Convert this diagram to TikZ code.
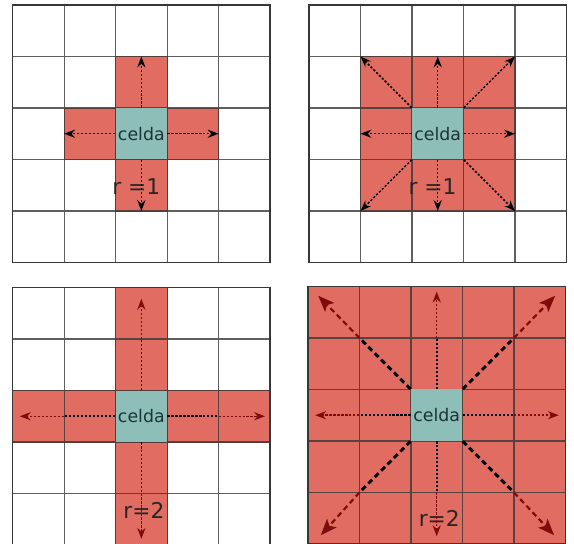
\documentclass[tikz,border=0pt]{standalone}
\usepackage{fontspec}
\setmainfont{DejaVu Sans}
\usetikzlibrary{arrows.meta}
\definecolor{celdaRed}{RGB}{224,108,98}
\definecolor{celdaEdge}{RGB}{214,70,60}
\definecolor{celdaTeal}{RGB}{142,190,184}
\definecolor{celdaInk}{RGB}{28,52,56}
\definecolor{rayRed}{RGB}{125,12,12}
\definecolor{gridGray}{RGB}{55,55,55}

\begin{document}
\begin{tikzpicture}[
    cellgrid/.style={draw=gridGray, draw opacity=0.8, line width=0.65pt},
    frame/.style={draw=gridGray, line width=0.9pt},
    hot/.style={fill=celdaRed, draw=celdaEdge, line width=0.4pt},
    celda/.style={rectangle, fill=celdaTeal, minimum size=1cm, inner sep=0pt,
                  text=celdaInk, font=\fontsize{9.6}{11}\selectfont},
    rlab/.style={text=black!85, font=\fontsize{12}{13}\selectfont, inner sep=0pt},
    ray/.style={black, line width=0.8pt, dash pattern=on 1.2pt off 1pt,
                -{Stealth[length=6pt,width=4.5pt]}},
    rayin/.style={black, line width=0.9pt, dash pattern=on 1.2pt off 1pt},
    rayout/.style={rayRed, line width=0.8pt, dash pattern=on 1.2pt off 1pt,
                   -{Stealth[length=6pt,width=4.5pt]}},
    diagin/.style={black, line width=1.6pt, dash pattern=on 3pt off 2pt},
    diagout/.style={rayRed, line width=1.2pt, dash pattern=on 3pt off 2pt,
                    -{Stealth[length=9pt,width=7pt,inset=2pt]}}
  ]
  \useasboundingbox (0,0) rectangle (11.146,10.563);

  % r = 1, von Neumann
  \begin{scope}[shift={(0.245,5.466)}]
    \filldraw[hot] (2,3) rectangle (3,4) (1,2) rectangle (2,3)
                   (3,2) rectangle (4,3) (2,1) rectangle (3,2);
    \draw[cellgrid] (0,0) grid (5,5);
    \draw[frame] (0,0) rectangle (5,5);
    \node[celda] (cA) at (2.5,2.5) {celda};
    \node[rlab] (rA) at (2.4,1.47) {r =1};
    \coordinate (aN) at (2.5,4);
    \coordinate (aW) at (1,2.5);
    \coordinate (aE) at (4,2.5);
    \coordinate (aS) at (2.5,1);
    \draw[ray] (cA.north) -- (aN);
    \draw[ray] (cA.west) -- (aW);
    \draw[ray] (cA.east) -- (aE);
    \draw[ray] (cA.south) -- (aS);
  \end{scope}

  % r = 1, Moore
  \begin{scope}[shift={(6.0,5.466)}]
    \filldraw[hot] (1,1) rectangle (4,4);
    \draw[cellgrid] (0,0) grid (5,5);
    \draw[frame] (0,0) rectangle (5,5);
    \node[celda] (cB) at (2.5,2.5) {celda};
    \node[rlab] (rB) at (2.4,1.47) {r =1};
    \coordinate (bN) at (2.5,4);
    \coordinate (bW) at (1,2.5);
    \coordinate (bE) at (4,2.5);
    \coordinate (bS) at (2.5,1);
    \coordinate (bNW) at (1,4);
    \coordinate (bNE) at (4,4);
    \coordinate (bSW) at (1,1);
    \coordinate (bSE) at (4,1);
    \draw[ray] (cB.north) -- (bN);
    \draw[ray] (cB.west) -- (bW);
    \draw[ray] (cB.east) -- (bE);
    \draw[ray] (cB.south) -- (bS);
    \draw[ray] (cB.north west) -- (bNW);
    \draw[ray] (cB.north east) -- (bNE);
    \draw[ray] (cB.south west) -- (bSW);
    \draw[ray] (cB.south east) -- (bSE);
  \end{scope}

  % r = 2, von Neumann
  \begin{scope}[shift={(0.245,-0.02)}]
    \filldraw[hot] (2,0) rectangle (3,5) (0,2) rectangle (5,3);
    \draw[cellgrid] (0,0) grid (5,5);
    \draw[frame] (0,0) rectangle (5,5);
    \node[celda] (cC) at (2.5,2.5) {celda};
    \node[rlab] (rC) at (2.55,0.67) {r=2};
    \coordinate (cN1) at (2.5,4);
    \coordinate (cN2) at (2.5,4.78);
    \coordinate (cW1) at (1,2.5);
    \coordinate (cW2) at (0.14,2.5);
    \coordinate (cE1) at (4,2.5);
    \coordinate (cE2) at (4.9,2.5);
    \coordinate (cS1) at (2.5,1);
    \coordinate (cS2) at (2.5,0.12);
    \draw[rayin] (cC.north) -- (cN1);
    \draw[rayout] (cN1) -- (cN2);
    \draw[rayin] (cC.west) -- (cW1);
    \draw[rayout] (cW1) -- (cW2);
    \draw[rayin] (cC.east) -- (cE1);
    \draw[rayout] (cE1) -- (cE2);
    \draw[rayin] (cC.south) -- (cS1);
    \draw[rayout] (cS1) -- (cS2);
  \end{scope}

  % r = 2, Moore
  \begin{scope}[shift={(5.98,0)}]
    \filldraw[hot] (0,0) rectangle (5,5);
    \draw[cellgrid] (0,0) grid (5,5);
    \draw[frame] (0,0) rectangle (5,5);
    \node[celda] (cD) at (2.5,2.5) {celda};
    \node[rlab] (rD) at (2.55,0.5) {r=2};
    \coordinate (dN1) at (2.5,4);
    \coordinate (dN2) at (2.5,4.9);
    \coordinate (dW1) at (1,2.5);
    \coordinate (dW2) at (0.14,2.5);
    \coordinate (dE1) at (4,2.5);
    \coordinate (dE2) at (4.87,2.5);
    \coordinate (dS1) at (2.5,1);
    \coordinate (dS2) at (2.5,0.15);
    \coordinate (dNW1) at (1,4);
    \coordinate (dNW2) at (0.2,4.82);
    \coordinate (dNE1) at (4,4);
    \coordinate (dNE2) at (4.8,4.82);
    \coordinate (dSW1) at (1,1);
    \coordinate (dSW2) at (0.25,0.17);
    \coordinate (dSE1) at (4,1);
    \coordinate (dSE2) at (4.78,0.17);
    \draw[rayin] (cD.north) -- (dN1);
    \draw[rayout] (dN1) -- (dN2);
    \draw[rayin] (cD.west) -- (dW1);
    \draw[rayout] (dW1) -- (dW2);
    \draw[rayin] (cD.east) -- (dE1);
    \draw[rayout] (dE1) -- (dE2);
    \draw[rayin] (cD.south) -- (dS1);
    \draw[rayout] (dS1) -- (dS2);
    \draw[diagin] (cD.north west) -- (dNW1);
    \draw[diagout] (dNW1) -- (dNW2);
    \draw[diagin] (cD.north east) -- (dNE1);
    \draw[diagout] (dNE1) -- (dNE2);
    \draw[diagin] (cD.south west) -- (dSW1);
    \draw[diagout] (dSW1) -- (dSW2);
    \draw[diagin] (cD.south east) -- (dSE1);
    \draw[diagout] (dSE1) -- (dSE2);
  \end{scope}
\end{tikzpicture}
\end{document}
